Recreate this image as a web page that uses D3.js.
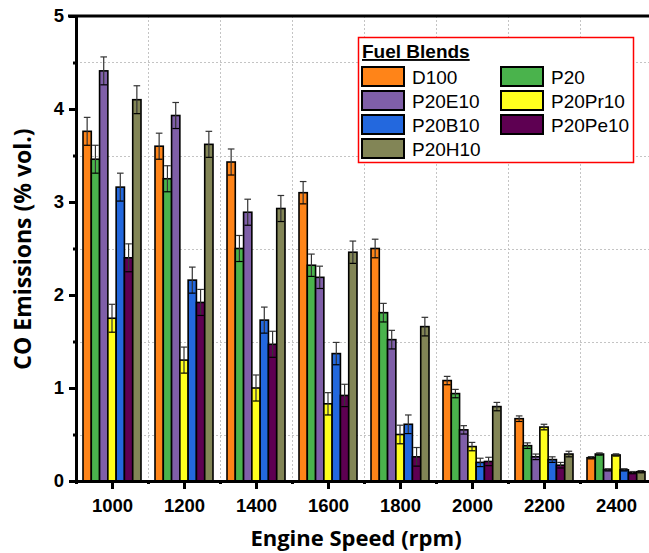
<!DOCTYPE html>
<html lang="en">
<head>
<meta charset="UTF-8">
<title>CO emissions by engine speed</title>
<script src="https://cdn.jsdelivr.net/npm/d3@7"></script>
<style>
  body { margin: 0; background: #fff; }
  svg { display: block; }
</style>
</head>
<body>
<script>
// engine speeds (rpm) on the x axis
const speeds = [1000, 1200, 1400, 1600, 1800, 2000, 2200, 2400];
const blends = ["D100", "P20", "P20E10", "P20Pr10", "P20B10", "P20Pe10", "P20H10"];
const colors = ["#ff8418", "#4ab34c", "#7f5fa8", "#ffff1e", "#2368de", "#5e0052", "#828556"];

// CO emissions (% vol.) per blend, one value per speed
const D100    = [3.76, 3.60, 3.43, 3.10, 2.50, 1.08, 0.67, 0.25];
const P20     = [3.46, 3.25, 2.50, 2.32, 1.81, 0.94, 0.38, 0.29];
const P20E10  = [4.41, 3.93, 2.89, 2.19, 1.52, 0.55, 0.26, 0.12];
const P20Pr10 = [1.75, 1.30, 1.00, 0.83, 0.50, 0.37, 0.58, 0.28];
const P20B10  = [3.16, 2.16, 1.73, 1.37, 0.61, 0.20, 0.23, 0.12];
const P20Pe10 = [2.40, 1.92, 1.47, 0.92, 0.26, 0.21, 0.17, 0.09];
const P20H10  = [4.10, 3.62, 2.93, 2.46, 1.66, 0.80, 0.29, 0.10];
// error bar half-height per speed
const errors  = [0.15, 0.14, 0.14, 0.12, 0.10, 0.045, 0.03, 0.012];

const series = [D100, P20, P20E10, P20Pr10, P20B10, P20Pe10, P20H10];
const yTicks = [0, 1, 2, 3, 4, 5];

const width = 649, height = 553;
const plotL = 76, plotT = 16, plotB = 481;

const svg = d3.select("body").append("svg")
    .attr("width", width)
    .attr("height", height);

const x = d3.scaleLinear().domain([900, 2500]).range([plotL, 652]);
const y = d3.scaleLinear().domain([0, 5]).range([plotB, plotT]);
const groupHalf = 29;
const inner = d3.scaleBand().domain(blends).range([-groupHalf, groupHalf]);
const bw = inner.bandwidth();

// dotted grid on the minor ticks
const grid = svg.append("g")
    .attr("stroke", "#c4c4c4")
    .attr("stroke-width", 1)
    .attr("stroke-dasharray", "2,2");
grid.selectAll("line.h")
    .data(d3.range(0.5, 5, 1))
    .join("line")
    .attr("x1", plotL).attr("x2", width)
    .attr("y1", d => Math.round(y(d)) + 0.5).attr("y2", d => Math.round(y(d)) + 0.5);
grid.selectAll("line.v")
    .data(d3.range(1100, 2500, 200))
    .join("line")
    .attr("x1", d => Math.round(x(d)) + 0.5).attr("x2", d => Math.round(x(d)) + 0.5)
    .attr("y1", plotT).attr("y2", plotB);

// flatten into bar records
const bars = [];
series.forEach((vals, si) => {
  vals.forEach((v, i) => {
    bars.push({ blend: blends[si], color: colors[si], speed: speeds[i], value: v, err: errors[i] });
  });
});

const bx = d => x(d.speed) + inner(d.blend);

svg.append("g").selectAll("rect")
    .data(bars)
    .join("rect")
    .attr("x", bx)
    .attr("y", d => y(d.value))
    .attr("width", bw)
    .attr("height", d => y(0) - y(d.value))
    .attr("fill", d => d.color)
    .attr("stroke", "#000")
    .attr("stroke-width", 1.6);

// error bars
const eb = svg.append("g").attr("stroke", "#333").attr("stroke-width", 1.2);
const capW = bw * 0.8;
bars.forEach(d => {
  const cx = bx(d) + bw / 2;
  const hi = y(d.value + d.err), lo = y(d.value - d.err);
  eb.append("line").attr("x1", cx).attr("x2", cx).attr("y1", hi).attr("y2", lo);
  eb.append("line").attr("x1", cx - capW / 2).attr("x2", cx + capW / 2).attr("y1", hi).attr("y2", hi);
  eb.append("line").attr("x1", cx - capW / 2).attr("x2", cx + capW / 2).attr("y1", lo).attr("y2", lo)
      .attr("stroke", "#000");
});

// axes
const tickFont = "'Liberation Sans', Arial, sans-serif";

const yAxis = svg.append("g")
    .attr("transform", `translate(${plotL},0)`)
    .call(d3.axisLeft(y).tickValues(yTicks).tickFormat(d3.format("d")).tickSize(7).tickPadding(5));
svg.append("g")
    .attr("transform", `translate(${plotL},0)`)
    .call(d3.axisLeft(y).tickValues(d3.range(0.5, 5, 1)).tickFormat("").tickSize(3))
    .call(g => g.select(".domain").remove());

const xAxis = svg.append("g")
    .attr("transform", `translate(0,${plotB})`)
    .call(d3.axisBottom(x).tickValues(speeds).tickFormat(d3.format("d")).tickSize(8).tickPadding(10));
svg.append("g")
    .attr("transform", `translate(0,${plotB})`)
    .call(d3.axisBottom(x).tickValues(d3.range(1100, 2500, 200).concat([900])).tickFormat("").tickSize(3))
    .call(g => g.select(".domain").remove());

svg.selectAll(".domain").attr("stroke-width", 3).attr("stroke", "#000");
svg.selectAll(".tick line").attr("stroke-width", 3).attr("stroke", "#000");
svg.selectAll(".tick text")
    .attr("font-family", tickFont)
    .attr("font-weight", "bold")
    .attr("font-size", 18.5)
    .attr("fill", "#000");
xAxis.selectAll(".domain").attr("d", `M${plotL - 1.5},0.5H${width}`);
yAxis.selectAll(".domain").attr("d", `M0.5,${plotB}V${plotT}`);

// top frame line
svg.append("line")
    .attr("x1", plotL - 8).attr("x2", width)
    .attr("y1", plotT).attr("y2", plotT)
    .attr("stroke", "#000").attr("stroke-width", 3);

// axis titles
const titleFont = "'Open Sans', sans-serif";
svg.append("text")
    .attr("x", 356).attr("y", 546)
    .attr("text-anchor", "middle")
    .attr("font-family", titleFont)
    .attr("font-weight", "bold")
    .attr("font-size", 22)
    .text("Engine Speed (rpm)");
svg.append("text")
    .attr("transform", "translate(31,249) rotate(-90)")
    .attr("text-anchor", "middle")
    .attr("font-family", titleFont)
    .attr("font-weight", "bold")
    .attr("font-size", 23)
    .text("CO Emissions (% vol.)");

// legend
const lg = svg.append("g");
lg.append("rect")
    .attr("x", 358.5).attr("y", 37.5)
    .attr("width", 275).attr("height", 125)
    .attr("fill", "#fff")
    .attr("stroke", "#ff0000")
    .attr("stroke-width", 1.5);
lg.append("text")
    .attr("x", 362).attr("y", 58)
    .attr("font-family", tickFont)
    .attr("font-weight", "bold")
    .attr("font-size", 19)
    .attr("text-decoration", "underline")
    .text("Fuel Blends");

const items = lg.selectAll("g.item")
    .data(blends)
    .join("g")
    .attr("transform", (d, i) => `translate(${i % 2 ? 501 : 362},${67 + Math.floor(i / 2) * 24})`);
items.append("rect")
    .attr("width", 42).attr("height", 19)
    .attr("fill", (d, i) => colors[i])
    .attr("stroke", "#000")
    .attr("stroke-width", 2);
items.append("text")
    .attr("x", 50).attr("y", 16.5)
    .attr("font-family", tickFont)
    .attr("font-size", 19)
    .text(d => d);
</script>
</body>
</html>
